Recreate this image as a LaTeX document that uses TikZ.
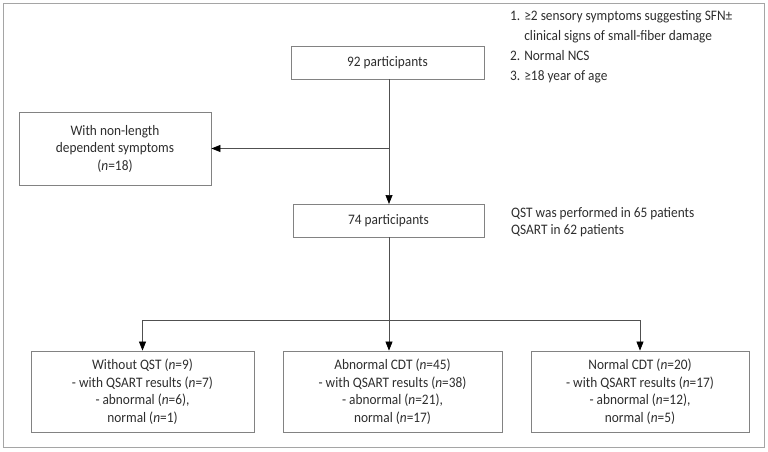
\documentclass[tikz,border=0pt]{standalone}
\usepackage{fontspec}
\setmainfont{Carlito}[FakeStretch=0.92]
\usetikzlibrary{arrows.meta}
\definecolor{framegray}{RGB}{165,165,165}
\definecolor{boxgray}{RGB}{130,130,130}
\definecolor{linegray}{RGB}{80,80,80}
\definecolor{txt}{RGB}{45,45,45}
\newcommand{\nn}{\textit{n}}
\tikzset{
  flowbox/.style={draw=boxgray, line width=0.8pt, rectangle, inner sep=0pt, align=center,
    text=txt, font=\fontsize{14.5}{17.5}\selectfont},
  plain/.style={inner sep=0pt, align=left, text=txt, font=\fontsize{14.5}{20}\selectfont},
  conn/.style={draw=linegray, line width=0.7pt},
  arr/.style={conn, -{Triangle[length=9pt,width=7pt,color=black]}}
}
\begin{document}
\begin{tikzpicture}[x=1pt,y=-1pt]
\useasboundingbox (0,0) rectangle (768,452);
\draw[framegray, line width=0.9pt] (3,3) rectangle (764,447);
% boxes
\node[flowbox, minimum width=193pt, minimum height=33pt] (p92) at (387.5,62.5) {92 participants};
\node[flowbox, minimum width=192pt, minimum height=73pt] (nld) at (115,148.5) {With non-length\\dependent symptoms\\(\nn=18)};
\node[flowbox, minimum width=191pt, minimum height=33pt] (p74) at (388.5,220.5) {74 participants};
\node[flowbox, minimum width=223pt, minimum height=81pt] (b1) at (142.5,391.5) {Without QST (\nn=9)\\- with QSART results (\nn=7)\\- abnormal (\nn=6),\\normal (\nn=1)};
\node[flowbox, minimum width=219pt, minimum height=81pt] (b2) at (392.5,391.5) {Abnormal CDT (\nn=45)\\- with QSART results (\nn=38)\\- abnormal (\nn=21),\\normal (\nn=17)};
\node[flowbox, minimum width=218pt, minimum height=81pt] (b3) at (640,391.5) {Normal CDT (\nn=20)\\- with QSART results (\nn=17)\\- abnormal (\nn=12),\\normal (\nn=5)};
% side texts
\node[plain, anchor=north west] (crit) at (510,10) {1. ≥2 sensory symptoms suggesting SFN±\\\hphantom{1. }clinical signs of small-fiber damage\\2. Normal NCS\\3. ≥18 year of age};
\node[plain, anchor=west, font=\fontsize{14.5}{17.5}\selectfont] (qst) at (511,222) {QST was performed in 65 patients\\QSART in 62 patients};
% connectors
\coordinate (j2) at (389,320);
\coordinate (jl) at (b1.north |- j2);
\coordinate (jr) at (b3.north |- j2);
\draw[arr] (p92.south -| 389,0) -- (389,204);
\draw[arr] (389,148.5) -- (nld.east);
\draw[conn] (p74.south -| 389,0) -- (j2);
\draw[conn] (jl) -- (jr);
\draw[arr] (jl) -- (b1.north);
\draw[arr] (j2) -- (j2 |- b2.north);
\draw[arr] (jr) -- (b3.north);
\end{tikzpicture}
\end{document}
